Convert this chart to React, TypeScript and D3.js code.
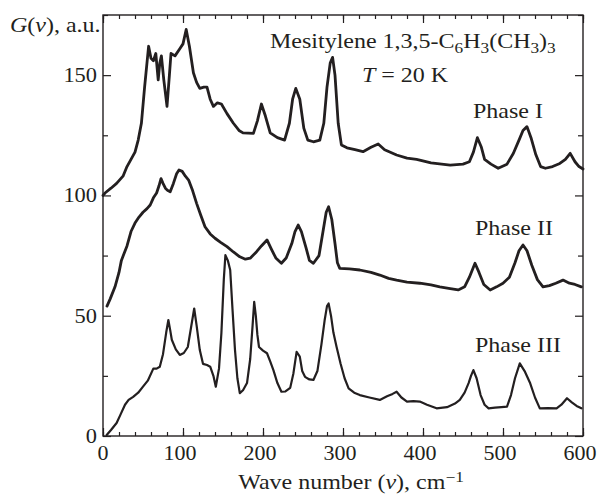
import React, { useRef, useEffect } from 'react';
import * as d3 from 'd3';

// Phase I spectrum (wave number, G)
const phase1Nu = [0, 2.5, 10, 17, 25, 30, 35, 40, 44, 48, 52, 57, 60, 63, 66, 69, 71, 73, 76, 80, 83, 85, 90, 96, 100, 104, 108, 113, 117, 121, 126, 130, 134, 138, 143, 148, 155, 163, 170, 175, 188, 193, 198, 203, 209, 218, 227, 233, 237, 241, 246, 251, 256, 263, 271, 276, 280, 284, 287, 290, 294, 298, 305, 315, 325, 335, 344, 352, 367, 380, 392, 410, 434, 450, 458, 463, 468, 473, 477, 485, 494, 505, 513, 520, 525, 530, 535, 541, 547, 553, 562, 571, 578, 584, 590, 595, 600];
const phase1G = [100, 101, 103, 105, 108, 112, 115, 118, 123, 130, 145, 162, 157, 156, 159, 148, 155, 158, 148, 137, 150, 159, 158, 161, 163, 169, 162, 151, 147, 144.5, 145, 145, 140, 137, 138.5, 138, 134, 130, 127, 126, 125.8, 131, 138, 133, 126, 124, 123, 130, 140, 144.5, 140, 128, 123, 122.3, 123, 130, 145, 155, 157.4, 150, 130, 121, 119.8, 119, 118.2, 120, 121.4, 119, 116.8, 115.5, 115, 113.5, 112.6, 113, 114, 118, 124, 120, 115, 113, 111.3, 113, 117.5, 123, 127, 128.6, 124, 117, 112, 111.3, 112, 113.3, 115, 117.5, 114, 112, 111];

// Phase II spectrum
const phase2Nu = [5, 9, 15, 20, 23, 30, 35, 40, 45, 50, 55, 59, 63, 67, 70, 72.5, 75, 78, 81, 84, 88, 92, 95, 99, 103, 107, 112, 117, 122, 127.5, 134, 140, 147, 155, 163, 171, 178, 184, 192, 198, 205, 210, 216, 223, 229, 236, 240, 244, 248, 254, 258, 263, 270, 275, 279, 282, 286, 290, 293, 296, 308, 321, 335, 346, 357, 367, 380, 396, 410, 421, 434, 444, 452, 458, 465, 470, 476, 484, 492, 500, 508, 515, 520, 525, 530, 536, 543, 550, 558, 566, 575, 583, 590, 598];
const phase2G = [54, 57, 62, 68, 73, 79, 85, 88.5, 91, 93, 94.5, 96, 99, 101, 104, 107, 105, 103, 102, 101.5, 105, 109, 110.6, 110, 108, 106.4, 102, 96.7, 92, 87, 84, 82.2, 80.5, 78.7, 76.5, 74.5, 73.5, 73.9, 76.6, 79, 81.5, 78, 74, 71.8, 74, 80, 85, 87.7, 85, 78, 73, 71.8, 75, 85, 93, 95.3, 90, 80, 72, 69.7, 69.5, 69, 68, 66.9, 65.5, 64.8, 64, 63.5, 62.8, 62, 61.3, 60.7, 62, 66, 71.8, 68, 63, 60.7, 62, 63.5, 66, 72, 77, 79.4, 77, 71, 65, 62, 62.5, 63.5, 64.8, 63.5, 63, 62];

// Phase III spectrum
const phase3Nu = [4.6, 10, 17, 22, 27.5, 32, 37.7, 44, 50, 56, 62.9, 67, 71, 75, 79, 81.7, 84, 86, 91, 96, 101, 106, 110, 114, 117, 121, 125, 130, 134, 138, 141, 145, 148, 151, 153, 156, 159, 162, 165, 168, 171, 175, 180, 184, 187, 189, 191, 193, 195, 200, 205, 209, 213, 218, 223, 228, 234, 238, 242, 246, 249, 252.5, 258, 263, 268, 273, 277, 280, 282, 285, 288, 292, 297, 302, 307, 314, 321, 333, 346, 355, 362, 367, 373, 380, 388, 396, 405, 417, 430, 440, 446, 452, 457, 460, 463, 467, 472, 477, 482, 490, 498, 505, 510, 515, 521, 527, 534, 540, 546, 556, 567, 573, 580, 586, 592, 598];
const phase3G = [0.4, 2.5, 5.4, 9, 13, 15, 16.3, 18, 20.5, 23, 28, 28, 28.8, 34, 43, 48.2, 44, 40, 36, 33.7, 34.5, 37, 45, 53, 46, 35.7, 30, 29.5, 28.8, 25, 20.5, 28, 42.8, 65, 75.2, 73, 69, 52, 35.7, 24, 17.8, 19, 22, 32, 46, 55.8, 50, 42, 37, 35.5, 34.4, 31, 27.4, 22, 18.4, 18.5, 20, 26, 35, 33, 27, 24.6, 23.5, 23.3, 27, 38, 48, 54, 55.1, 50, 43, 37, 30, 24, 19.8, 18, 17, 16, 15, 16.5, 17.5, 18.4, 16, 14.3, 14.5, 14.3, 13, 11.5, 12, 13.5, 15, 18, 22, 25, 27.4, 24, 17, 13, 11.5, 11.8, 12, 12.2, 17, 24, 30.2, 27, 21.9, 16, 11.5, 11.6, 11.5, 13, 15.7, 14, 12.5, 11.5];

const xMajor = [0, 100, 200, 300, 400, 500, 600];
const xMinor = d3.range(0, 601, 20);
const yMajor = [0, 50, 100, 150];
const yMinor = [25, 75, 125, 175];

const phaseLabels = ['Phase I', 'Phase II', 'Phase III'];

type Seg = { t: string; sub?: boolean; sup?: boolean; italic?: boolean };

const FONT = '"Liberation Serif", "Times New Roman", serif';
const FS = 20;
const ink = '#231f20';

// append a text element built from pieces (subscripts, italics)
const richText = (parent: any, x: number, y: number, segs: Seg[], anchor = 'start', stretch = 1.2) => {
  const txt = parent.append('text')
    .attr('transform', `translate(${x}, ${y}) scale(${stretch}, 1)`)
    .attr('text-anchor', anchor)
    .attr('font-family', FONT)
    .attr('font-size', FS)
    .attr('fill', ink);
  let shift = 0;
  segs.forEach(s => {
    const target = s.sub ? 5 : s.sup ? -7 : 0;
    txt.append('tspan')
      .attr('dy', target - shift)
      .attr('font-size', s.sub || s.sup ? FS * 0.72 : FS)
      .attr('font-style', s.italic ? 'italic' : 'normal')
      .text(s.t);
    shift = target;
  });
  return txt;
};

const Spectra = ({ width = 597, height = 495 }) => {
  const ref = useRef<SVGSVGElement>(null);

  useEffect(() => {
    const svg = d3.select(ref.current);
    svg.selectAll('*').remove();

    const margin = { top: 15, right: 14, bottom: 59, left: 103 };
    const innerWidth = width - margin.left - margin.right;
    const innerHeight = height - margin.top - margin.bottom;

    const x = d3.scaleLinear().domain([0, 600]).range([0, innerWidth]);
    const y = d3.scaleLinear().domain([0, 175]).range([innerHeight, 0]);

    const chart = svg.append('g')
      .attr('transform', `translate(${margin.left}, ${margin.top})`);

    // ticks pointing inwards, no domain line, no labels
    const ticks = (gen: any, tx: number, ty: number) => {
      const g = chart.append('g')
        .attr('transform', `translate(${tx}, ${ty})`)
        .call(gen.tickFormat(() => ''));
      g.select('.domain').remove();
      g.selectAll('line').attr('stroke', ink).attr('stroke-width', 1.2);
      return g;
    };

    ticks(d3.axisBottom(x).tickValues(xMajor).tickSize(-8), 0, innerHeight);
    ticks(d3.axisBottom(x).tickValues(xMinor).tickSize(-4), 0, innerHeight);
    ticks(d3.axisTop(x).tickValues(xMajor).tickSize(-8), 0, 0);
    ticks(d3.axisTop(x).tickValues(xMinor).tickSize(-4), 0, 0);
    ticks(d3.axisLeft(y).tickValues(yMajor).tickSize(-8), 0, 0);
    ticks(d3.axisLeft(y).tickValues(yMinor).tickSize(-5), 0, 0);
    ticks(d3.axisRight(y).tickValues(yMajor).tickSize(-8), innerWidth, 0);
    ticks(d3.axisRight(y).tickValues(yMinor).tickSize(-5), innerWidth, 0);

    // tick labels (sit slightly left of their ticks in the figure)
    xMajor.forEach(v => {
      const cx = margin.left + x(v) - (v === 0 ? 0 : 3);
      richText(svg, cx, margin.top + innerHeight + 24, [{ t: String(v) }], 'middle', 1.1);
    });
    yMajor.forEach(v => {
      richText(svg, margin.left - 6, margin.top + y(v) + 7, [{ t: String(v) }], 'end', 1.12);
    });

    // frame
    chart.append('rect')
      .attr('width', innerWidth)
      .attr('height', innerHeight)
      .attr('fill', 'none')
      .attr('stroke', ink)
      .attr('stroke-width', 1.4);

    // curves
    const line = d3.line<[number, number]>()
      .x(d => x(d[0]))
      .y(d => y(d[1]))
      .curve(d3.curveLinear);

    const series: [number[], number[], number][] = [
      [phase1Nu, phase1G, 2.8],
      [phase2Nu, phase2G, 2.8],
      [phase3Nu, phase3G, 2.2]
    ];
    series.forEach(([nu, g, w]) => {
      chart.append('path')
        .datum(nu.map((v, i) => [v, g[i]] as [number, number]))
        .attr('d', line)
        .attr('fill', 'none')
        .attr('stroke', ink)
        .attr('stroke-width', w)
        .attr('stroke-linejoin', 'round')
        .attr('stroke-linecap', 'round');
    });

    // annotations
    richText(svg, 270, 48, [
      { t: 'Mesitylene 1,3,5-C' }, { t: '6', sub: true }, { t: 'H' }, { t: '3', sub: true },
      { t: '(CH' }, { t: '3', sub: true }, { t: ')' }, { t: '3', sub: true }
    ]);
    richText(svg, 362, 82, [{ t: 'T', italic: true }, { t: ' = 20 K' }]);

    const phasePos = [[473, 118], [475, 235], [475, 352]];
    phaseLabels.forEach((p, i) => {
      richText(svg, phasePos[i][0], phasePos[i][1], [{ t: p }]);
    });

    richText(svg, 10, 32, [{ t: 'G', italic: true }, { t: '(' }, { t: 'ν', italic: true }, { t: '), a.u.' }]);

    richText(svg, 351, 489, [
      { t: 'Wave number (' }, { t: 'ν', italic: true }, { t: '), cm' }, { t: '−1', sup: true }
    ], 'middle');
  }, [width, height]);

  return (
    <svg
      ref={ref}
      width={width}
      height={height}
      style={{ position: 'absolute', left: 0, top: 0, background: '#fff' }}
    />
  );
};

export default function App() {
  return <Spectra />;
}
